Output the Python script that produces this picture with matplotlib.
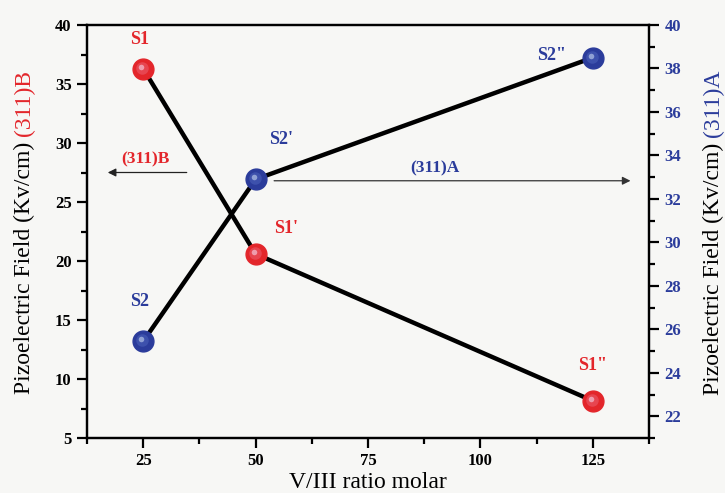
import matplotlib.pyplot as plt
from matplotlib.ticker import MultipleLocator
import matplotlib.transforms as mtransforms

# data
vratio = [25, 50, 125]
field_b = [36.3, 20.6, 8.15]      # (311)B, left axis
field_a = [25.45, 32.9, 38.5]     # (311)A, right axis
labels_b = ['S1', "S1'", 'S1"']
labels_a = ['S2', "S2'", 'S2"']

RED = '#e3262b'
BLUE = '#2b3c9b'

plt.rcParams['font.family'] = ['Liberation Serif', 'DejaVu Serif']

fig = plt.figure(figsize=(7.25, 4.93), dpi=100, facecolor='#f7f7f5')
ax = fig.add_axes([87 / 725, 1 - 438 / 493, (649 - 87) / 725, (438 - 25) / 493])
ax.set_facecolor('#f7f7f5')
ax2 = ax.twinx()


def sphere(axis, x, y, color, light, hi):
    axis.plot(x, y, 'o', ms=15, color=color, mec=color, zorder=5)
    for k, (s, c) in enumerate([(9, light), (4, hi)]):
        tr = mtransforms.offset_copy(axis.transData, fig=fig, x=-1 - k, y=1 + k, units='dots')
        axis.plot(x, y, 'o', ms=s, color=c, mec='none', alpha=0.6, transform=tr, zorder=6)


ax.plot(vratio, field_b, color='black', lw=3.2, zorder=3)
sphere(ax, vratio, field_b, RED, '#ea5a6a', '#f4d8ec')
ax2.plot(vratio, field_a, color='black', lw=3.2, zorder=3)
sphere(ax2, vratio, field_a, BLUE, '#4a60b8', '#c8d8f0')

offs_b = [(-4, 21), (30, 17), (0, 27)]
offs_a = [(-4, 31), (25, 31), (-27, 2)]
for x, y, t, o in zip(vratio, field_b, labels_b, offs_b):
    ax.annotate(t, (x, y), xytext=o, textcoords='offset pixels', ha='center', va='bottom',
                color=RED, fontsize=13, fontweight='bold', zorder=7)
for x, y, t, o in zip(vratio, field_a, labels_a, offs_a):
    ax2.annotate(t, (x, y), xytext=o, textcoords='offset pixels',
                 ha='right' if o[0] < -10 else 'center', va='bottom' if o[0] > -10 else 'center',
                 color=BLUE, fontsize=13, fontweight='bold', zorder=7)

# direction arrows
ax.annotate('', xy=(16.5, 27.5), xytext=(35.3, 27.5),
            arrowprops=dict(arrowstyle='-|>', color='#222222', lw=0.9, mutation_scale=12))
ax.text(25.5, 27.9, '(311)B', color=RED, fontsize=12.5, fontweight='bold', ha='center', va='bottom')
ax.annotate('', xy=(134, 26.8), xytext=(53.5, 26.8),
            arrowprops=dict(arrowstyle='-|>', color='#333333', lw=0.9, mutation_scale=12))
ax.text(89.8, 27.2, '(311)A', color=BLUE, fontsize=12.5, fontweight='bold', ha='center', va='bottom')

ax.set_xlim(12.5, 137.5)
ax.set_ylim(5, 40)
ax2.set_ylim(21, 40)
ax.xaxis.set_major_locator(MultipleLocator(25))
ax.xaxis.set_minor_locator(MultipleLocator(12.5))
ax.yaxis.set_major_locator(MultipleLocator(5))
ax.yaxis.set_minor_locator(MultipleLocator(2.5))
ax2.yaxis.set_major_locator(MultipleLocator(2))
ax2.yaxis.set_minor_locator(MultipleLocator(1))

for a in (ax, ax2):
    for sp in a.spines.values():
        sp.set_linewidth(1.6)
    a.tick_params(which='major', direction='out', length=7, width=1.6, labelsize=12, pad=4)
    a.tick_params(which='minor', direction='out', length=4, width=1.6)
ax.tick_params(axis='y', which='both', right=False)
ax.tick_params(axis='x', which='both', top=False)
for lab in ax.get_xticklabels() + ax.get_yticklabels() + ax2.get_yticklabels():
    lab.set_fontweight('bold')
for lab in ax2.get_yticklabels():
    lab.set_color(BLUE)

ax.set_xlabel('V/III ratio molar', fontsize=17, labelpad=2)

# two-colour y labels
fig.canvas.draw()
r = fig.canvas.get_renderer()
yc = 1 - 232 / 493
for xpos, col in [(24 / 725, RED), (713 / 725, BLUE)]:
    part = '(311)B' if col == RED else '(311)A'
    t1 = fig.text(0, 0, 'Pizoelectric Field (Kv/cm) ', rotation=90, fontsize=17)
    t2 = fig.text(0, 0, part, rotation=90, fontsize=17, color=col)
    h1 = t1.get_window_extent(r).height
    h2 = t2.get_window_extent(r).height
    y0 = yc * 493 - (h1 + h2) / 2
    t1.set_position((xpos, y0 / 493))
    t1.set_ha('center'); t1.set_va('bottom')
    t2.set_position((xpos, (y0 + h1) / 493))
    t2.set_ha('center'); t2.set_va('bottom')

fig.savefig('out.png', dpi=100, facecolor=fig.get_facecolor())
